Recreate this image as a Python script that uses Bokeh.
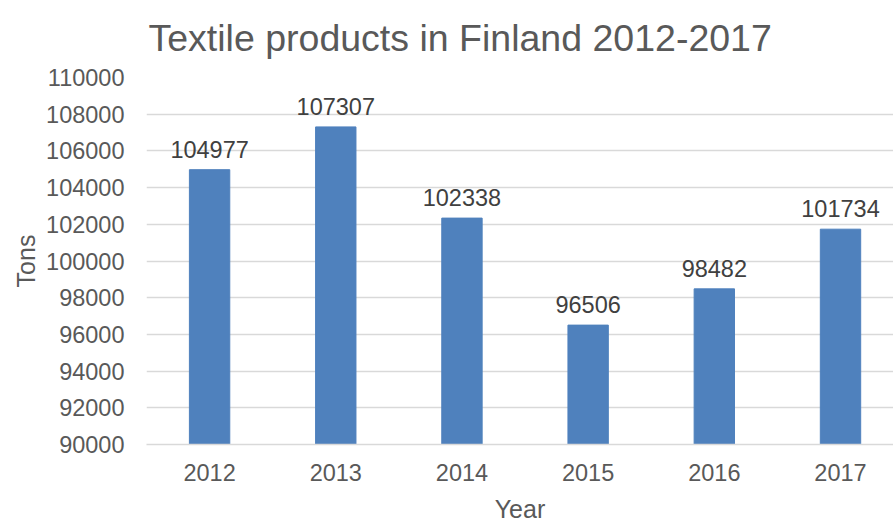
from bokeh.plotting import figure
from bokeh.models import ColumnDataSource, FixedTicker, Range1d, LabelSet, NumeralTickFormatter
from bokeh.core.properties import value
from bokeh.embed import file_html
from bokeh.resources import INLINE

title_text = "Textile products in Finland 2012-2017"
years = ["2012", "2013", "2014", "2015", "2016", "2017"]
tons = [104977, 107307, 102338, 96506, 98482, 101734]
y_ticks = list(range(90000, 110001, 2000))

idx = list(range(len(years)))
src = ColumnDataSource(dict(x=idx, top=tons, label=[str(v) for v in tons]))

FONT = "Liberation Sans"
GRAY = "#595959"

p = figure(width=893, height=525, output_backend="svg", toolbar_location=None,
           x_range=Range1d(-0.5, 5.42), y_range=Range1d(90000, 110000),
           min_border_left=146, min_border_right=0, min_border_top=0, min_border_bottom=81,
           title=title_text)
p.outline_line_color = None
p.background_fill_color = "white"
p.border_fill_color = "white"

p.title.text_font = FONT
p.title.text_font_size = "37.5px"
p.title.text_font_style = "normal"
p.title.text_color = GRAY
p.title.align = "left"
p.title.vertical_align = "top"
p.title.offset = 2
p.title.standoff = 33

p.vbar(x="x", top="top", bottom=90000, width=0.32, source=src,
       fill_color="#4F81BD", line_color="#4F81BD")

labels = LabelSet(x="x", y="top", text="label", source=src, text_align="center",
                  text_baseline="bottom", y_offset=12, text_font=value(FONT),
                  text_font_size=value("23.5px"), text_color="#404040")
p.add_layout(labels)

p.xaxis.ticker = FixedTicker(ticks=idx)
p.xaxis.major_label_overrides = {i: y for i, y in enumerate(years)}
p.yaxis.ticker = FixedTicker(ticks=y_ticks)
p.yaxis.formatter = NumeralTickFormatter(format="0")

for ax in (p.xaxis[0], p.yaxis[0]):
    ax.major_tick_line_color = None
    ax.minor_tick_line_color = None
    ax.major_label_text_font = FONT
    ax.major_label_text_font_size = "23.5px"
    ax.major_label_text_color = GRAY
    ax.axis_label_text_font = FONT
    ax.axis_label_text_font_size = "25px"
    ax.axis_label_text_font_style = "normal"
    ax.axis_label_text_color = GRAY

p.xaxis.axis_line_color = "#d9d9d9"
p.xaxis.axis_line_width = 1.5
p.yaxis.axis_line_color = None
p.xaxis.axis_label = "Year"
p.yaxis.axis_label = "Tons"
p.xaxis.major_label_standoff = 13
p.xaxis.axis_label_standoff = 11
p.yaxis.major_label_standoff = 16
p.yaxis.axis_label_standoff = 3

p.xgrid.grid_line_color = None
p.ygrid.ticker = FixedTicker(ticks=y_ticks)
p.ygrid.grid_line_color = "#d9d9d9"
p.ygrid.grid_line_width = 1.5

open("out.html", "w").write(file_html(p, INLINE))
